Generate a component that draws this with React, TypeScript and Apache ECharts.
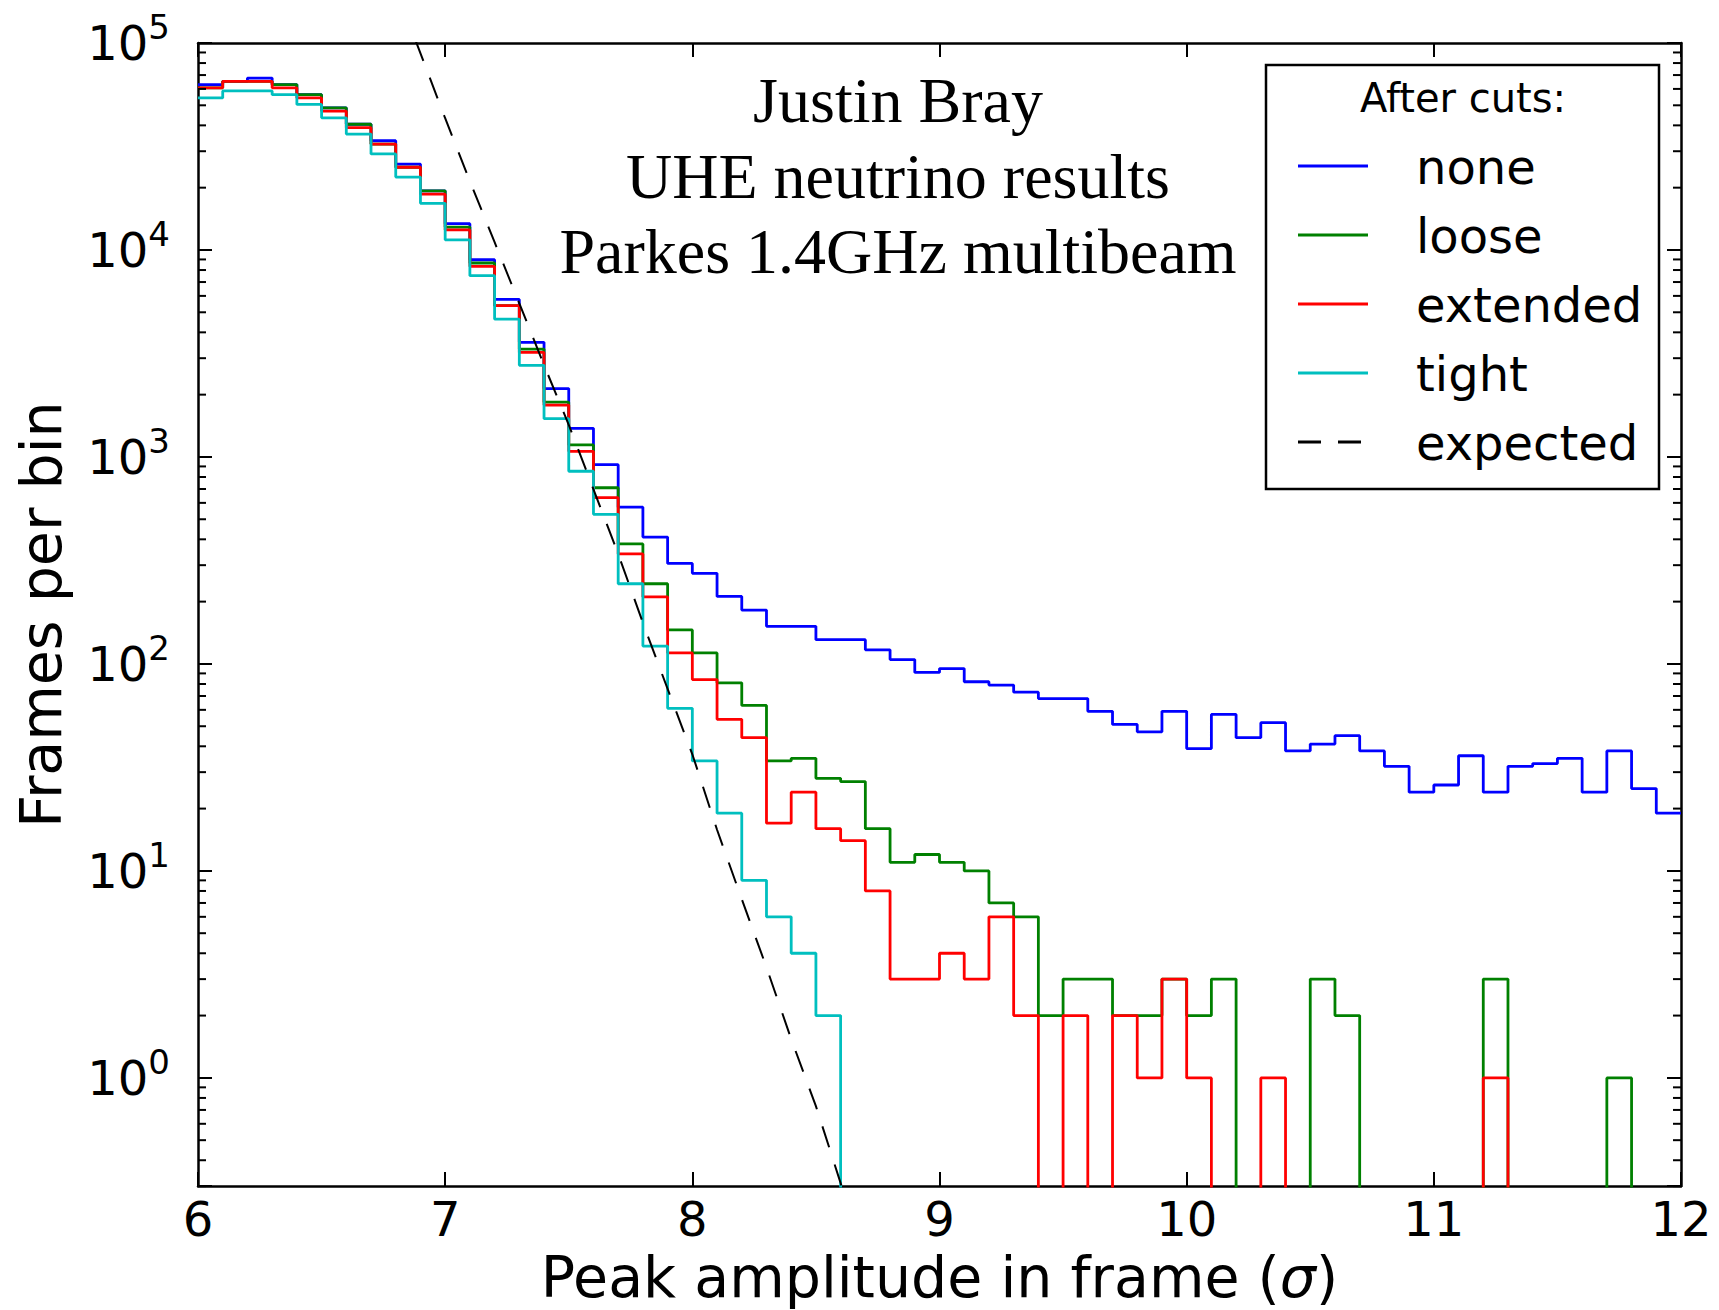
import React, { useEffect, useRef } from 'react';
import * as echarts from 'echarts';

// ---- data -------------------------------------------------------------
const binStart = 6.0;
const binWidth = 0.1;

// Frames per bin, bins of 0.1 sigma from 6.0 to 12.0
const noneCounts = [
  63000, 65300, 67700, 63000, 56300, 48600, 40500, 33700, 26000, 19300,
  13400, 8970, 5770, 3580, 2140, 1375, 918, 572, 410, 306,
  274, 212, 182, 152, 152, 131, 131, 117, 105, 91,
  95, 82, 79, 73, 68, 68, 59, 51, 47, 59,
  39, 57, 44, 52, 38, 41, 45, 38, 32, 24,
  26, 36, 24, 32, 33, 35, 24, 38, 25, 19,
];
const looseCounts = [
  60700, 65300, 65300, 63000, 56300, 48600, 40500, 32500, 25100, 19300,
  12900, 8650, 5380, 3320, 1840, 1143, 710, 380, 244, 146,
  113, 81, 63, 34, 35, 28, 27, 16, 11, 12,
  11, 10, 7, 6, 2, 3, 3, 2, 2, 3,
  2, 3, 0, 0, 0, 3, 2, 0, 0, 0,
  0, 0, 3, 0, 0, 0, 0, 1, 0, 0,
];
const extendedCounts = [
  60700, 65300, 65300, 60700, 54300, 46900, 39000, 32500, 25100, 18600,
  12500, 8330, 5380, 3200, 1780, 1064, 636, 340, 211, 113,
  84, 54, 44, 17, 24, 16, 14, 8, 3, 3,
  4, 3, 6, 2, 0, 2, 0, 2, 1, 3,
  1, 0, 0, 1, 0, 0, 0, 0, 0, 0,
  0, 0, 1, 0, 0, 0, 0, 0, 0, 0,
];
const tightCounts = [
  54300, 58700, 58700, 56300, 50500, 43500, 36300, 29100, 22500, 16800,
  11200, 7510, 4630, 2770, 1530, 853, 528, 244, 122, 61,
  34, 19, 9, 6, 4, 2, 0, 0, 0, 0,
  0, 0, 0, 0, 0, 0, 0, 0, 0, 0,
  0, 0, 0, 0, 0, 0, 0, 0, 0, 0,
  0, 0, 0, 0, 0, 0, 0, 0, 0, 0,
];

// expected curve
const expectedX = [6.88, 7.0, 7.1, 7.2, 7.3, 7.4, 7.5, 7.6, 7.7, 7.8, 7.9, 8.0, 8.1, 8.2, 8.3, 8.4, 8.5, 8.6, 8.65];
const expectedY = [103000, 43300, 21500, 10900, 5520, 2780, 1430, 698, 340, 158, 75.7, 36.6, 15.8, 7.3, 3.42, 1.54, 0.73, 0.31, 0.2];

const seriesNames = ['none', 'loose', 'extended', 'tight', 'expected'];
const seriesColors = ['#0000ff', '#008000', '#ff0000', '#00bfbf', '#000000'];
const titleLines = ['Justin Bray', 'UHE neutrino results', 'Parkes 1.4GHz multibeam'];
const legendTitle = 'After cuts:';
const xName = 'Peak amplitude in frame ';
const yName = 'Frames per bin';

const xMin = 6;
const xMax = 12;
const yMin = 0.3;
const yMax = 100000;

// ---- helpers ------------------------------------------------------------
const FLOOR = 0.01; // zero-count bins drop below the axis

function stepPoints(counts: number[]) {
  const pts: number[][] = [];
  counts.forEach((c, i) => {
    const v = c > 0 ? c : FLOOR;
    const x0 = +(binStart + i * binWidth).toFixed(3);
    const x1 = +(binStart + (i + 1) * binWidth).toFixed(3);
    pts.push([x0, v], [x1, v]);
  });
  return pts;
}

function minorTickValues() {
  const out: number[] = [];
  for (let k = -1; k <= 4; k++) {
    for (let m = 2; m <= 9; m++) {
      const v = m * Math.pow(10, k);
      if (v > yMin && v < yMax) out.push(v);
    }
  }
  return out;
}

const SANS = 'DejaVu Sans';
const SERIF = 'Liberation Serif';

export default function App() {
  const ref = useRef<HTMLDivElement>(null);

  useEffect(() => {
    if (!ref.current) return;
    const chart = echarts.init(ref.current, null, { renderer: 'svg' });

    const histSets = [noneCounts, looseCounts, extendedCounts, tightCounts];
    const histSeries = histSets.map((counts, i) => ({
      name: seriesNames[i],
      type: 'line',
      data: stepPoints(counts),
      symbol: 'none',
      showSymbol: false,
      clip: true,
      lineStyle: { color: seriesColors[i], width: 2.8 },
      itemStyle: { color: seriesColors[i] },
      z: 3 + i,
    }));

    const expectedSeries = {
      name: seriesNames[4],
      type: 'line',
      data: expectedX.map((x, i) => [x, expectedY[i]]),
      symbol: 'none',
      showSymbol: false,
      clip: true,
      lineStyle: { color: '#000', width: 2, type: [22, 18] },
      z: 8,
    };

    const minorSeries = {
      type: 'custom',
      silent: true,
      clip: false,
      z: 9,
      data: minorTickValues().map((v) => [xMin, v]),
      encode: { x: 0, y: 1 },
      renderItem: (params: any, api: any) => {
        const v = api.value(1);
        const p0 = api.coord([xMin, v]);
        const p1 = api.coord([xMax, v]);
        const st = { stroke: '#000', lineWidth: 2 };
        return {
          type: 'group',
          children: [
            { type: 'line', shape: { x1: p0[0], y1: p0[1], x2: p0[0] + 8, y2: p0[1] }, style: st },
            { type: 'line', shape: { x1: p1[0] - 8, y1: p1[1], x2: p1[0], y2: p1[1] }, style: st },
          ],
        };
      },
    };

    const axisLineStyle = { color: '#000', width: 2.5 };
    const tickStyle = { color: '#000', width: 2 };

    const legendX0 = 1266;
    const legendY0 = 65;
    const legendW = 393;
    const legendH = 424;
    const rowY = [166, 235, 304, 373, 442];

    const graphics: any[] = [];
    titleLines.forEach((t, i) => {
      graphics.push({
        type: 'text',
        x: 898,
        y: [100, 176, 251][i],
        z: 20,
        style: {
          text: t,
          fontSize: 64,
          fontFamily: SERIF,
          fill: '#000',
          align: 'center',
          verticalAlign: 'middle',
        },
      });
    });
    graphics.push({
      type: 'rect',
      z: 20,
      shape: { x: legendX0, y: legendY0, width: legendW, height: legendH },
      style: { fill: '#fff', stroke: '#000', lineWidth: 2.5 },
    });
    graphics.push({
      type: 'text',
      x: 1463,
      y: 98,
      z: 21,
      style: { text: legendTitle, fontSize: 40, fontFamily: SANS, fill: '#000', align: 'center', verticalAlign: 'middle' },
    });
    seriesNames.forEach((n, i) => {
      graphics.push({
        type: 'line',
        z: 21,
        shape: { x1: 1298, y1: rowY[i], x2: 1368, y2: rowY[i] },
        style: {
          stroke: seriesColors[i],
          lineWidth: 3,
          lineDash: i === 4 ? [23, 17, 23, 60] : null,
        },
      });
      graphics.push({
        type: 'text',
        x: 1416,
        y: rowY[i] + 1,
        z: 21,
        style: { text: n, fontSize: 48, fontFamily: SANS, fill: '#000', align: 'left', verticalAlign: 'middle' },
      });
    });

    const option: any = {
      animation: false,
      backgroundColor: '#fff',
      grid: { left: 198, right: 38, top: 43, bottom: 119, containLabel: false },
      xAxis: [
        {
          type: 'value',
          position: 'bottom',
          min: xMin,
          max: xMax,
          interval: 1,
          name: xName + '({i|σ})',
          nameLocation: 'middle',
          nameGap: 61,
          nameTextStyle: {
            fontSize: 57,
            fontFamily: SANS,
            color: '#000',
            rich: { i: { fontSize: 57, fontFamily: SANS, fontStyle: 'italic', color: '#000' } },
          },
          axisLine: { show: true, lineStyle: axisLineStyle },
          axisTick: { show: true, inside: true, length: 14, lineStyle: tickStyle },
          axisLabel: { fontSize: 48, fontFamily: SANS, color: '#000', margin: 9 },
          splitLine: { show: false },
        },
        {
          type: 'value',
          position: 'top',
          min: xMin,
          max: xMax,
          interval: 1,
          axisLine: { show: true, lineStyle: axisLineStyle },
          axisTick: { show: true, inside: true, length: 14, lineStyle: tickStyle },
          axisLabel: { show: false },
          splitLine: { show: false },
        },
      ],
      yAxis: [
        {
          type: 'log',
          logBase: 10,
          position: 'left',
          min: yMin,
          max: yMax,
          name: yName,
          nameLocation: 'middle',
          nameGap: 129,
          nameTextStyle: { fontSize: 57, fontFamily: SANS, color: '#000' },
          axisLine: { show: true, lineStyle: axisLineStyle },
          axisTick: { show: true, inside: true, length: 14, lineStyle: tickStyle },
          axisLabel: {
            margin: 28,
            color: '#000',
            formatter: (v: number) => {
              const e = Math.log10(v);
              const r = Math.round(e);
              if (Math.abs(e - r) > 1e-6) return '';
              return '{b|10}{s|' + r + '}';
            },
            rich: {
              b: { fontSize: 48, fontFamily: SANS, color: '#000', lineHeight: 66, verticalAlign: 'middle' },
              s: { fontSize: 34, fontFamily: SANS, color: '#000', lineHeight: 34, verticalAlign: 'top' },
            },
          },
          splitLine: { show: false },
          minorTick: { show: false },
        },
        {
          type: 'log',
          logBase: 10,
          position: 'right',
          min: yMin,
          max: yMax,
          axisLine: { show: true, lineStyle: axisLineStyle },
          axisTick: { show: true, inside: true, length: 14, lineStyle: tickStyle },
          axisLabel: { show: false },
          splitLine: { show: false },
        },
      ],
      series: [...histSeries, expectedSeries, minorSeries],
      graphic: graphics,
    };

    chart.setOption(option);
    return () => chart.dispose();
  }, []);

  return (
    <div
      ref={ref}
      style={{ position: 'fixed', left: 0, top: 0, width: 1719, height: 1310, background: '#fff' }}
    />
  );
}
